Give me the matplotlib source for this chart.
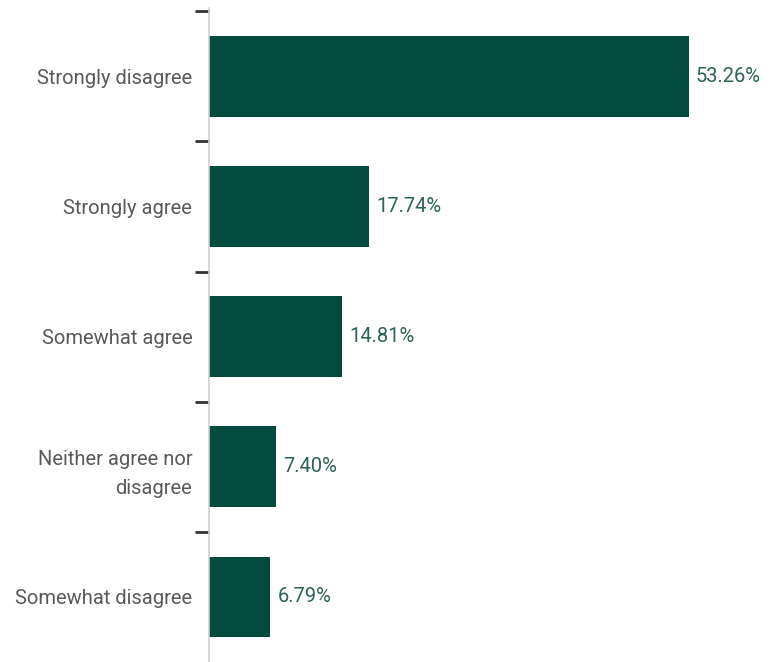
import numpy as np
import matplotlib.pyplot as plt
from matplotlib.ticker import FixedLocator

# ==========================================
# DATA
# ==========================================
categories = ["Strongly disagree", "Strongly agree", "Somewhat agree",
              "Neither agree nor\ndisagree", "Somewhat disagree"]
values = [53.26, 17.74, 14.81, 7.40, 6.79]

bar_color = "#034b3f"
label_color = "#595959"
value_color = "#2c6357"

plt.rcParams["font.family"] = ["Roboto", "DejaVu Sans"]

# ==========================================
# PLOT
# ==========================================
fig = plt.figure(figsize=(7.72, 6.62), dpi=100)
ax = fig.add_axes([209 / 772, 0.0, 1 - 209 / 772, 1 - 8 / 662])

y = np.arange(len(categories))
ax.barh(y, values, height=0.62, color=bar_color)

for yi, v in zip(y, values):
    ax.text(v + 0.8, yi, f"{v:.2f}%", va="center", ha="left",
            fontsize=14.5, color=value_color)

ax.set_ylim(len(categories) - 0.5, -0.525)
ax.set_xlim(0, 62.5)

ax.set_yticks(y)
ax.set_yticklabels(categories, fontsize=14.5, color=label_color,
                   ha="right", multialignment="right", linespacing=1.7)
ax.tick_params(axis="y", which="major", length=0, pad=12)
ax.yaxis.set_minor_locator(FixedLocator(np.arange(-0.5, len(categories) - 0.5, 1)))
ax.tick_params(axis="y", which="minor", length=10, width=2, color="#333333")
ax.set_xticks([])

for side in ["top", "right", "bottom"]:
    ax.spines[side].set_visible(False)
ax.spines["left"].set_color("#d0d0d0")
ax.spines["left"].set_linewidth(1.2)

plt.savefig("out.png", dpi=100)
